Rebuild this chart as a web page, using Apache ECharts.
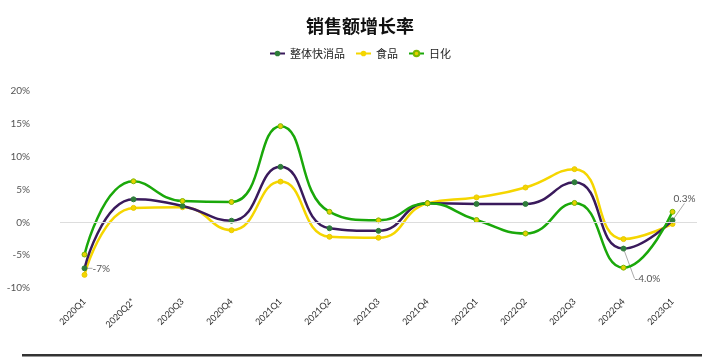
<!DOCTYPE html>
<html><head><meta charset="utf-8">
<script src="https://cdn.jsdelivr.net/npm/echarts@6/dist/echarts.min.js"></script>
<style>html,body{margin:0;padding:0;background:#fff}#c{width:720px;height:363px}</style>
</head><body><div id="c"></div>
<script>
const categories = ['2020Q1','2020Q2*','2020Q3','2020Q4','2021Q1','2021Q2','2021Q3','2021Q4','2022Q1','2022Q2','2022Q3','2022Q4','2023Q1'];
const overall = [-7.0, 3.5, 2.5, 0.25, 8.45, -0.9, -1.3, 2.9, 2.8, 2.8, 6.1, -4.0, 0.3];
const food = [-8.0, 2.2, 2.3, -1.2, 6.2, -2.2, -2.35, 2.9, 3.8, 5.3, 8.1, -2.55, -0.25];
const daily = [-4.9, 6.25, 3.25, 3.1, 14.65, 1.6, 0.3, 2.9, 0.35, -1.7, 2.95, -6.9, 1.6];
const yTicks = {min: -10, max: 20, interval: 5};
const labelled = {0: '-7%', 11: '-4.0%', 12: '0.3%'};

const chart = echarts.init(document.getElementById('c'));
const font = 'Lato, "Noto Sans CJK SC", sans-serif';
chart.setOption({
  animation: false,
  title: {text: '销售额增长率', left: 'center', top: 12,
    textStyle: {fontSize: 18, fontWeight: 'bold', color: '#111', fontFamily: '"Noto Sans CJK SC", sans-serif'}},
  legend: {top: 43, left: 'center', itemWidth: 15, itemHeight: 7, itemGap: 10,
    textStyle: {fontSize: 11, color: '#222', fontFamily: '"Noto Sans CJK SC", sans-serif'}},
  grid: {left: 60, right: 23, top: 91, bottom: 75},
  xAxis: {type: 'category', data: categories, boundaryGap: true,
    axisLine: {show: false}, axisTick: {show: false},
    axisLabel: {rotate: 45, fontSize: 9, color: '#333', margin: 12, fontFamily: font}},
  yAxis: {type: 'value', min: yTicks.min, max: yTicks.max, interval: yTicks.interval,
    axisLabel: {formatter: '{value}%', fontSize: 10, color: '#555', margin: 30, fontFamily: font},
    splitLine: {show: false}, axisLine: {show: false}},
  graphic: [{type: 'rect', shape: {x: 22, y: 354, width: 680, height: 2.5}, style: {fill: '#333'}}],
  series: [
    {name: '整体快消品', type: 'line', smooth: 0.5, data: overall.map((v, i) => labelled[i] ? {
        value: v, label: {show: true, formatter: labelled[i]}} : v),
      color: '#3a1a5c', lineStyle: {width: 2.5, color: '#3a1a5c'},
      symbol: 'circle', symbolSize: 5, itemStyle: {color: '#2e7d3a', borderColor: '#2e7d3a'},
      label: {show: false, fontSize: 10, color: '#555', position: 'right', fontFamily: font},
      labelLine: {show: true, lineStyle: {color: '#aaa', width: 1}},
      labelLayout: function (p) {
        if (p.dataIndex === 11) return {dx: 3, dy: 30};
        if (p.dataIndex === 12) return {dx: -7, dy: -22};
        return {};
      },
      markLine: {silent: true, symbol: 'none', label: {show: false},
        lineStyle: {color: '#ddd', type: 'solid', width: 1}, data: [{yAxis: 0}]},
      z: 3},
    {name: '食品', type: 'line', smooth: 0.5, data: food,
      color: '#f5d600', lineStyle: {width: 2.5, color: '#f5d600'},
      symbol: 'circle', symbolSize: 5, itemStyle: {color: '#f5d600', borderColor: '#e8c800'}, z: 2},
    {name: '日化', type: 'line', smooth: 0.5, data: daily,
      color: '#1aa80a', lineStyle: {width: 2.5, color: '#1aa80a'},
      symbol: 'circle', symbolSize: 5, itemStyle: {color: '#e6d000', borderColor: '#7cb800', borderWidth: 1}, z: 4}
  ]
});
</script></body></html>
